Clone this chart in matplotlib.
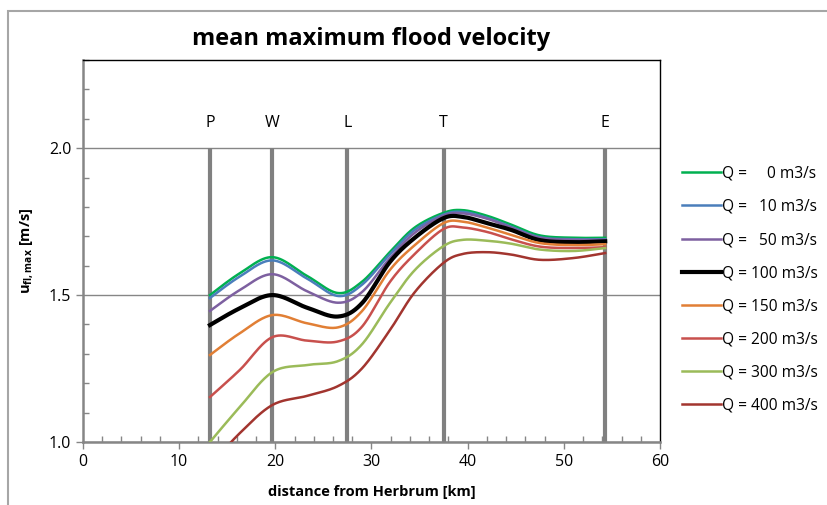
import numpy as np
import matplotlib
matplotlib.use("Agg")
import matplotlib.pyplot as plt
from matplotlib.patches import Rectangle
from matplotlib.ticker import MultipleLocator

plt.rcParams["font.family"] = ["Open Sans", "DejaVu Sans"]
plt.rcParams["mathtext.fontset"] = "custom"
plt.rcParams["mathtext.rm"] = "Open Sans"
plt.rcParams["mathtext.bf"] = "Open Sans:bold"

# stations along the river (km from Herbrum)
station_names = ["P", "W", "L", "T", "E"]
station_km = [13.2, 19.7, 27.5, 37.5, 54.3]

km = [13.2, 16.3, 19.7, 23.3, 26.5, 29.0, 31.9, 34.5, 37.5, 39.5, 42.0, 44.5, 47.5, 51.0, 54.3]

u_q0 = [1.500, 1.574, 1.629, 1.565, 1.507, 1.545, 1.646, 1.730, 1.780, 1.789, 1.770, 1.740, 1.703, 1.695, 1.695]
u_q10 = [1.490, 1.563, 1.618, 1.556, 1.497, 1.535, 1.638, 1.722, 1.774, 1.783, 1.763, 1.733, 1.697, 1.690, 1.690]
u_q50 = [1.446, 1.517, 1.571, 1.513, 1.474, 1.510, 1.625, 1.712, 1.770, 1.778, 1.760, 1.730, 1.695, 1.688, 1.688]
u_q100 = [1.398, 1.455, 1.500, 1.457, 1.427, 1.472, 1.612, 1.695, 1.762, 1.766, 1.745, 1.722, 1.687, 1.680, 1.683]
u_q150 = [1.296, 1.370, 1.432, 1.404, 1.390, 1.445, 1.585, 1.670, 1.745, 1.750, 1.730, 1.705, 1.677, 1.670, 1.673]
u_q200 = [1.153, 1.245, 1.357, 1.345, 1.342, 1.392, 1.544, 1.640, 1.725, 1.730, 1.715, 1.690, 1.665, 1.660, 1.663]
u_q300 = [1.000, 1.119, 1.238, 1.262, 1.275, 1.332, 1.472, 1.585, 1.667, 1.688, 1.685, 1.675, 1.655, 1.650, 1.660]
u_q400 = [0.920, 1.030, 1.126, 1.157, 1.190, 1.250, 1.380, 1.510, 1.610, 1.640, 1.646, 1.638, 1.620, 1.626, 1.643]

series = [u_q0, u_q10, u_q50, u_q100, u_q150, u_q200, u_q300, u_q400]
labels = ["Q =     0 m3/s", "Q =   10 m3/s", "Q =   50 m3/s", "Q = 100 m3/s",
          "Q = 150 m3/s", "Q = 200 m3/s", "Q = 300 m3/s", "Q = 400 m3/s"]
colors = ["#00B050", "#4A7EBB", "#7D60A0", "#000000",
          "#E17F35", "#C8504D", "#9BBB59", "#A2352F"]


def smooth(xs, ys, n=30):
    # Excel-like smoothed line: cubic bezier through the points (catmull-rom tangents)
    p = np.column_stack([xs, ys]).astype(float)
    p = np.vstack([p[0], p, p[-1]])
    out = []
    t = np.linspace(0, 1, n)[:, None]
    for i in range(1, len(p) - 2):
        p0, p1, p2, p3 = p[i - 1], p[i], p[i + 1], p[i + 2]
        c1 = p1 + (p2 - p0) / 6
        c2 = p2 - (p3 - p1) / 6
        seg = ((1 - t) ** 3) * p1 + 3 * ((1 - t) ** 2) * t * c1 + 3 * (1 - t) * t ** 2 * c2 + t ** 3 * p2
        out.append(seg if i == 1 else seg[1:])
    out = np.vstack(out)
    return out[:, 0], out[:, 1]


fig = plt.figure(figsize=(8.28, 5.05), dpi=100)
ax = fig.add_axes([83 / 828, 1 - 442 / 505, (660 - 83) / 828, (442 - 60) / 505])

for name, s in zip(station_names, station_km):
    ax.plot([s, s], [1.0, 2.0], color="#808080", lw=3.0, zorder=2, solid_capstyle="butt")
    ax.text(s, 2.085, name, ha="center", va="center", fontsize=11.5)

for vals, lab, col in zip(series, labels, colors):
    sx, sy = smooth(km, vals)
    lw = 3.0 if col == "#000000" else 1.8
    ax.plot(sx, sy, color=col, lw=lw, label=lab, zorder=3)

ax.set_xlim(0, 60)
ax.set_ylim(1.0, 2.3)
ax.xaxis.set_major_locator(MultipleLocator(10))
ax.xaxis.set_minor_locator(MultipleLocator(2))
ax.set_yticks([1.0, 1.5, 2.0])
ax.yaxis.set_minor_locator(MultipleLocator(0.1))
ax.set_yticklabels(["1.0", "1.5", "2.0"])
ax.tick_params(axis="both", which="major", direction="out", length=5, color="#868686",
               labelsize=11.5, width=1)
ax.tick_params(axis="both", which="minor", direction="in", length=4, color="#868686", width=1)
ax.grid(axis="y", which="major", color="#868686", lw=1)

for side in ["left", "bottom"]:
    ax.spines[side].set_color("#868686")
    ax.spines[side].set_linewidth(1.8)
for side in ["top", "right"]:
    ax.spines[side].set_color("black")
    ax.spines[side].set_linewidth(1)

ax.set_title("mean maximum flood velocity", fontsize=17, fontweight="bold", pad=11)
ax.set_xlabel("distance from Herbrum [km]", fontsize=10.5, fontweight="bold", labelpad=11)
ax.set_ylabel(r"$\mathbf{u_{fl,max}}$ [m/s]", fontsize=10.5, fontweight="bold", labelpad=10)

ax.legend(loc="upper left", bbox_to_anchor=(674 / 828, 1 - 158 / 505),
          bbox_transform=fig.transFigure, frameon=False, fontsize=11.2,
          handlelength=2.5, handletextpad=0.1, labelspacing=1.1, borderpad=0)

fig.add_artist(Rectangle((8 / 828, -0.1), 1.2, 1 - 11 / 505 + 0.1, transform=fig.transFigure,
                         fill=False, edgecolor="#a6a6a6", lw=1.5))

fig.savefig("out.png", dpi=100)
